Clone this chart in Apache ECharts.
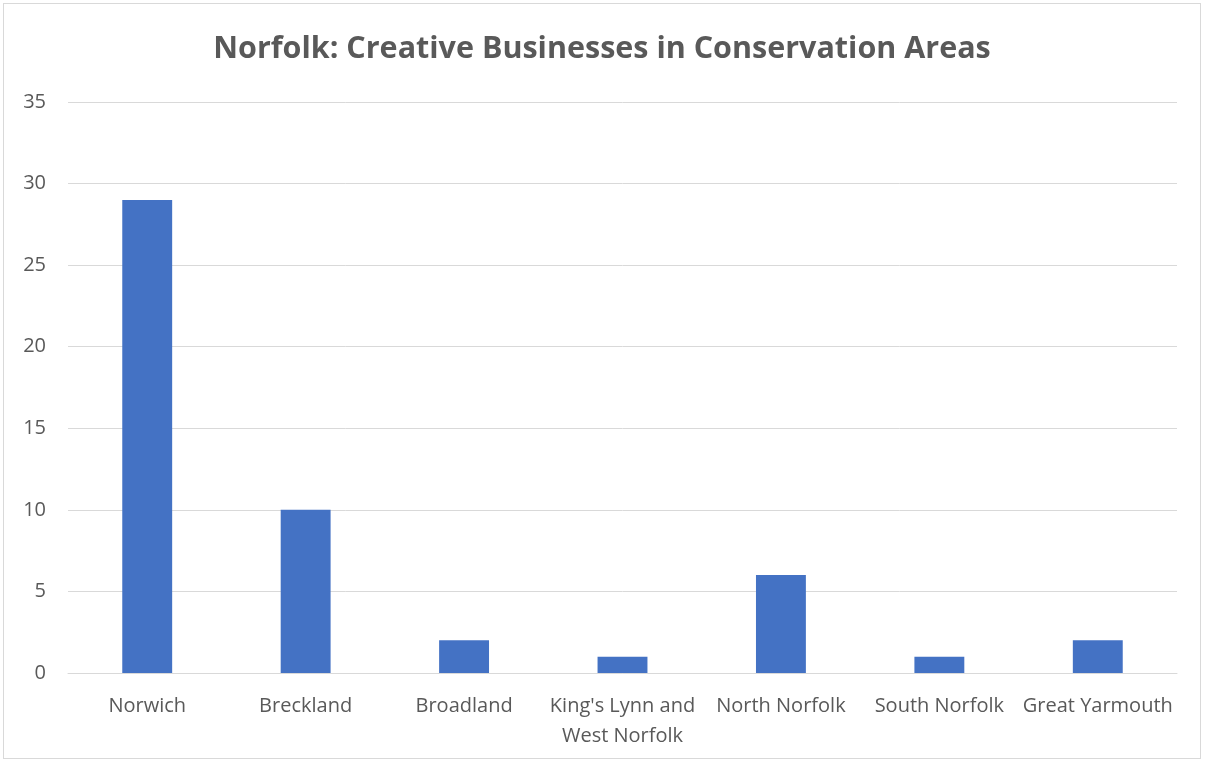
<!DOCTYPE html>
<html>
<head>
<meta charset="utf-8">
<script src="https://cdn.jsdelivr.net/npm/echarts@6/dist/echarts.min.js"></script>
<style>
	html, body { margin: 0; padding: 0; background: #fff; }
	#grafico {
		position: absolute; left: 3px; top: 3px;
		width: 1198px; height: 756px;
		border: 1px solid #d9d9d9; box-sizing: border-box;
	}
</style>
</head>
<body>
<div id="grafico"></div>
<script>
// Dados do gráfico
const areas = ['Norwich', 'Breckland', 'Broadland', "King's Lynn and\nWest Norfolk",
	'North Norfolk', 'South Norfolk', 'Great Yarmouth'];
const negocios = [29, 10, 2, 1, 6, 1, 2];

const grafico = echarts.init(document.getElementById('grafico'));

const option = {
	animation: false,
	textStyle: { fontFamily: 'Open Sans' },
	title: {
		text: 'Norfolk: Creative Businesses in Conservation Areas',
		left: 'center',
		top: 25,
		textStyle: { fontSize: 30.5, fontWeight: 'bold', color: '#595959', fontFamily: 'Open Sans' }
	},
	grid: { left: 64, right: 23, top: 98, bottom: 85, containLabel: false },
	xAxis: {
		type: 'category',
		data: areas,
		axisLine: { lineStyle: { color: '#d9d9d9', width: 1 } },
		axisTick: { show: false },
		axisLabel: { color: '#595959', fontSize: 20, margin: 18, interval: 0, lineHeight: 30 }
	},
	yAxis: {
		type: 'value',
		min: 0, max: 35, interval: 5,
		axisLine: { show: false },
		axisTick: { show: false },
		splitLine: { lineStyle: { color: '#d9d9d9', width: 1 } },
		axisLabel: { color: '#595959', fontSize: 20, margin: 22 }
	},
	series: [{
		type: 'bar',
		data: negocios,
		barWidth: '31.5%',
		itemStyle: { color: '#4472c4' }
	}]
};

grafico.setOption(option);
</script>
</body>
</html>
